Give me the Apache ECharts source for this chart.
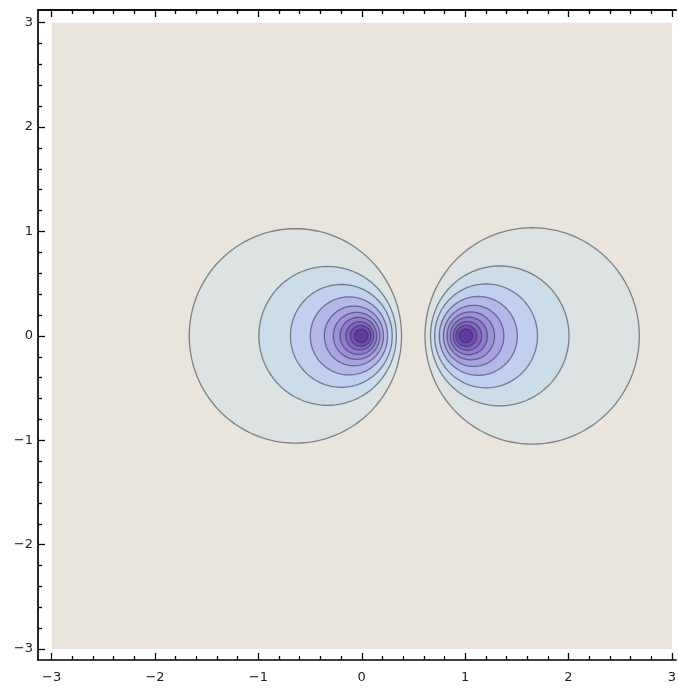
<!DOCTYPE html>
<html>
<head>
<meta charset="utf-8">
<script src="https://cdn.jsdelivr.net/npm/echarts@6/dist/echarts.min.js"></script>
<style>
html,body{margin:0;padding:0;background:#fff;}
#chart{width:679px;height:690px;}
</style>
</head>
<body>
<div id="chart"></div>
<script>
// Tick marks
const majorTicks = [-3, -2, -1, 0, 1, 2, 3];
const minorStep = 0.2;
// Plot range of the filled region
const plotRangeX = [-3, 3];
const plotRangeY = [-3, 3];
// Contour circles, read along y = 0: leftmost and rightmost x of each circle
const leftGroupXMin = [-1.669, -0.995, -0.690, -0.498, -0.362, -0.275, -0.210, -0.155, -0.110, -0.070];
const leftGroupXMax = [0.385, 0.335, 0.295, 0.250, 0.210, 0.175, 0.145, 0.115, 0.090, 0.060];
const rightGroupXMin = [0.612, 0.665, 0.705, 0.750, 0.790, 0.825, 0.855, 0.885, 0.910, 0.940];
const rightGroupXMax = [2.685, 2.005, 1.700, 1.505, 1.375, 1.285, 1.215, 1.160, 1.112, 1.072];
// Fill colours of the region inside each contour (outer to inner)
const levelColors = ['#DDE3E2', '#CCDDEA', '#C0D0EE', '#B4B8E8', '#A8A4E0', '#9C90D8', '#8E7CCE', '#8166C2', '#7250B4', '#5F38A2'];
const backgroundColor = '#EAE5DC';

const minorTicks = [];
for (let v = -3; v <= 3.0001; v += minorStep) {
  const r = Math.round(v * 10) / 10;
  if (Math.abs(r - Math.round(r)) > 1e-6) minorTicks.push(r);
}

const xMin = -3.132, xMax = 3.04, yMin = -3.105, yMax = 3.122;
const fmt = v => (v < 0 ? '\u2212' + Math.abs(v) : String(v));
const lineCol = '#000';

function axis(type, pos, ticks, len, labels) {
  const isX = type === 'x';
  return {
    type: 'value',
    position: pos,
    min: isX ? xMin : yMin,
    max: isX ? xMax : yMax,
    axisLine: { show: !!labels || pos === 'top', onZero: false, lineStyle: { color: lineCol, width: 1.7 } },
    axisTick: { show: true, inside: true, length: len, customValues: ticks, lineStyle: { color: lineCol, width: 1.3 } },
    axisLabel: labels ? {
      show: true, customValues: ticks, formatter: fmt,
      margin: isX ? 11 : 5, fontSize: 13, color: '#222', fontFamily: 'DejaVu Sans'
    } : { show: false, customValues: ticks },
    splitLine: { show: false },
    minorTick: { show: false }
  };
}

function circleData(mins, maxs) {
  return mins.map((l, i) => [(l + maxs[i]) / 2, (maxs[i] - l) / 2]);
}

function circleRender(params, api) {
  const cx = api.value(0), r = api.value(1);
  const pts = [];
  const n = 160;
  for (let i = 0; i <= n; i++) {
    const t = 2 * Math.PI * i / n;
    pts.push(api.coord([cx + r * Math.cos(t), r * Math.sin(t)]));
  }
  return {
    type: 'polygon',
    shape: { points: pts },
    style: { fill: levelColors[params.dataIndex], stroke: 'rgba(45,45,65,0.55)', lineWidth: 1.3 }
  };
}

const chart = echarts.init(document.getElementById('chart'), null, { renderer: 'canvas' });
chart.setOption({
  animation: false,
  backgroundColor: '#ffffff',
  grid: { left: 38, top: 10, right: 0, bottom: 30, containLabel: false },
  xAxis: [
    axis('x', 'bottom', majorTicks, 7, true),
    axis('x', 'bottom', minorTicks, 4, false),
    axis('x', 'top', majorTicks, 7, false),
    axis('x', 'top', minorTicks, 4, false)
  ],
  yAxis: [
    axis('y', 'left', majorTicks, 7, true),
    axis('y', 'left', minorTicks, 4, false)
  ],
  series: [
    {
      type: 'custom', xAxisIndex: 0, yAxisIndex: 0, silent: true,
      data: [[plotRangeX[0], plotRangeY[0], plotRangeX[1], plotRangeY[1]]],
      renderItem: function (params, api) {
        const p0 = api.coord([api.value(0), api.value(3)]);
        const p1 = api.coord([api.value(2), api.value(1)]);
        return { type: 'rect', shape: { x: p0[0], y: p0[1], width: p1[0] - p0[0], height: p1[1] - p0[1] }, style: { fill: backgroundColor } };
      }
    },
    {
      type: 'custom', xAxisIndex: 0, yAxisIndex: 0, silent: true,
      data: circleData(leftGroupXMin, leftGroupXMax),
      renderItem: circleRender
    },
    {
      type: 'custom', xAxisIndex: 0, yAxisIndex: 0, silent: true,
      data: circleData(rightGroupXMin, rightGroupXMax),
      renderItem: circleRender
    }
  ]
});
</script>
</body>
</html>
